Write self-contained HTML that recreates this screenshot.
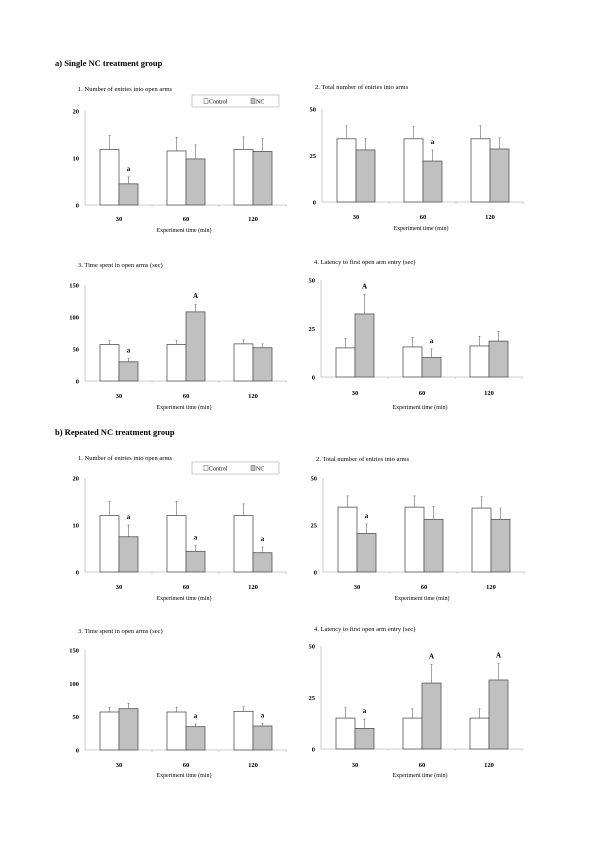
<!DOCTYPE html>
<html><head><meta charset="utf-8"><style>
body{margin:0;background:#fff;}
svg{display:block;font-family:"Liberation Serif",serif;}
</style></head><body>
<svg id="chart" width="600" height="850" viewBox="0 0 600 850">
<text x="55" y="66" font-size="8.5" font-weight="bold">a) Single NC treatment group</text>
<text x="55" y="435" font-size="8.5" font-weight="bold">b) Repeated NC treatment group</text>
</svg>
<script>
const categories = ["30","60","120"];
const a1Control = [11.8,11.5,11.8], a1ControlErr = [3,2.9,2.7], a1NC = [4.5,9.8,11.4], a1NCErr = [1.5,3,2.7], a1Sig = ["a","",""];
const a2Control = [34,34,34], a2ControlErr = [7,6.5,7], a2NC = [28,22,28.5], a2NCErr = [6,6,6], a2Sig = ["","a",""];
const a3Control = [57,57,58], a3ControlErr = [6,6,6], a3NC = [30,108,52], a3NCErr = [5,12,6], a3Sig = ["a","A",""];
const a4Control = [15,15.5,16], a4ControlErr = [5,5,5], a4NC = [32.5,10,18.5], a4NCErr = [10,4.5,5], a4Sig = ["A","a",""];
const b1Control = [12,12,12], b1ControlErr = [3,3,2.5], b1NC = [7.5,4.4,4.1], b1NCErr = [2.5,1.2,1.2], b1Sig = ["a","a","a"];
const b2Control = [34.5,34.5,34], b2ControlErr = [6,6,6], b2NC = [20.5,28,28], b2NCErr = [5,7,6], b2Sig = ["a","",""];
const b3Control = [57,57,58], b3ControlErr = [7,7,7], b3NC = [62,35,36], b3NCErr = [8,4,4], b3Sig = ["","a","a"];
const b4Control = [15,15,15], b4ControlErr = [5,4.5,4.5], b4NC = [10,32,33.5], b4NCErr = [4.5,9,8], b4Sig = ["a","A","A"];
const ticks20 = [0,10,20], ticks50 = [0,25,50], ticks150 = [0,50,100,150];

const NS="http://www.w3.org/2000/svg";
const svg=document.getElementById('chart');
function mk(tag,attrs,parent){const e=document.createElementNS(NS,tag);for(const k in attrs)e.setAttribute(k,attrs[k]);(parent||svg).appendChild(e);return e;}

const panels=[
 {id:"a1",title:"1. Number of entries into open arms",ax:85,top:111,zero:205,max:20,ticks:ticks20,c:a1Control,ce:a1ControlErr,n:a1NC,ne:a1NCErr,sig:a1Sig,lab:221,xl:232,legend:[192,95]},
 {id:"a2",title:"2. Total number of entries into arms",ax:322,top:109,zero:202,max:50,ticks:ticks50,c:a2Control,ce:a2ControlErr,n:a2NC,ne:a2NCErr,sig:a2Sig,lab:219,xl:230},
 {id:"a3",title:"3. Time spent in open arms (sec)",ax:85,top:285,zero:381,max:150,ticks:ticks150,c:a3Control,ce:a3ControlErr,n:a3NC,ne:a3NCErr,sig:a3Sig,lab:398,xl:409},
 {id:"a4",title:"4. Latency to first open arm entry (sec)",ax:321,top:280,zero:377,max:50,ticks:ticks50,c:a4Control,ce:a4ControlErr,n:a4NC,ne:a4NCErr,sig:a4Sig,lab:395,xl:409},
 {id:"b1",title:"1. Number of entries into open arms",ax:85,top:478,zero:572,max:20,ticks:ticks20,c:b1Control,ce:b1ControlErr,n:b1NC,ne:b1NCErr,sig:b1Sig,lab:589,xl:600,legend:[192,462]},
 {id:"b2",title:"2. Total number of entries into arms",ax:323,top:478,zero:572,max:50,ticks:ticks50,c:b2Control,ce:b2ControlErr,n:b2NC,ne:b2NCErr,sig:b2Sig,lab:589,xl:600},
 {id:"b3",title:"3. Time spent in open arms (sec)",ax:85,top:650,zero:750,max:150,ticks:ticks150,c:b3Control,ce:b3ControlErr,n:b3NC,ne:b3NCErr,sig:b3Sig,lab:767,xl:777},
 {id:"b4",title:"4. Latency to first open arm entry (sec)",ax:321,top:646,zero:749,max:50,ticks:ticks50,c:b4Control,ce:b4ControlErr,n:b4NC,ne:b4NCErr,sig:b4Sig,lab:767,xl:777}
];
const titleOffset={a1:20,a2:20,a3:18,a4:16,b1:18,b2:17,b3:17,b4:15};

panels.forEach(p=>{
 const g=mk('g',{});
 
 
 const y=v=>p.zero-(v/p.max)*(p.zero-p.top);
 const W=202, step=67, bw=19;
 const t=mk('text',{x:p.ax-7,y:p.top-titleOffset[p.id],'font-size':6.5},g);t.textContent=p.title;
 
 const ya=mk('line',{x1:p.ax,y1:p.top,x2:p.ax,y2:p.zero,stroke:'#bbb','stroke-width':0.8},g);
 
 const xa=mk('line',{x1:p.ax,y1:p.zero,x2:p.ax+W,y2:p.zero,stroke:'#bbb','stroke-width':0.8},g);
 
 p.ticks.forEach(v=>{
  const tl=mk('text',{x:p.ax-6,y:y(v)+2.5,'font-size':6.5,'text-anchor':'end','font-weight':'bold'},g);tl.textContent=v;
  
 });
 for(let k=1;k<=3;k++){mk('line',{x1:p.ax+k*step,y1:p.zero,x2:p.ax+k*step,y2:p.zero+2,stroke:'#bbb','stroke-width':0.6},g);}
 categories.forEach((c,i)=>{
  const x0=p.ax+15+i*step;
  const cb=mk('rect',{x:x0,y:y(p.c[i]),width:bw,height:p.zero-y(p.c[i]),fill:'#fff',stroke:'#555','stroke-width':0.8},g);
  
  mk('line',{x1:x0+bw/2,y1:y(p.c[i]),x2:x0+bw/2,y2:y(p.c[i]+p.ce[i]),stroke:'#666','stroke-width':0.6},g);
  mk('line',{x1:x0+bw/2-1,y1:y(p.c[i]+p.ce[i]),x2:x0+bw/2+1,y2:y(p.c[i]+p.ce[i]),stroke:'#666','stroke-width':0.6},g);
  const nb=mk('rect',{x:x0+bw,y:y(p.n[i]),width:bw,height:p.zero-y(p.n[i]),fill:'#c0c0c0',stroke:'#555','stroke-width':0.8},g);
  
  const nx=x0+bw*1.5;
  mk('line',{x1:nx,y1:y(p.n[i]),x2:nx,y2:y(p.n[i]+p.ne[i]),stroke:'#666','stroke-width':0.6},g);
  mk('line',{x1:nx-1,y1:y(p.n[i]+p.ne[i]),x2:nx+1,y2:y(p.n[i]+p.ne[i]),stroke:'#666','stroke-width':0.6},g);
  if(p.sig[i]){const s=mk('text',{x:nx,y:y(p.n[i]+p.ne[i])-6,'font-size':7,'text-anchor':'middle','font-weight':'bold'},g);s.textContent=p.sig[i];
   }
  const cl=mk('text',{x:x0+bw,y:p.lab,'font-size':6.5,'text-anchor':'middle','font-weight':'bold'},g);cl.textContent=c;
  
 });
 const xl=mk('text',{x:p.ax+W/2-2,y:p.xl,'font-size':6,'text-anchor':'middle'},g);xl.textContent="Experiment time (min)";
 
 if(p.legend){
  const [lx,ly]=p.legend;
  const lg=mk('g',{},g);
  
  mk('rect',{x:lx,y:ly,width:87,height:12,fill:'#fff',stroke:'#aaa','stroke-width':0.6},lg);
  mk('rect',{x:lx+12,y:ly+3.5,width:4,height:5,fill:'#fff',stroke:'#555','stroke-width':0.5},lg);
  const t1=mk('text',{x:lx+17,y:ly+8.5,'font-size':6},lg);t1.textContent="Control";
  
  mk('rect',{x:lx+59,y:ly+3.5,width:4,height:5,fill:'#c0c0c0',stroke:'#555','stroke-width':0.5},lg);
  const t2=mk('text',{x:lx+64,y:ly+8.5,'font-size':6},lg);t2.textContent="NC";
  
 }
});
</script>
</body></html>
